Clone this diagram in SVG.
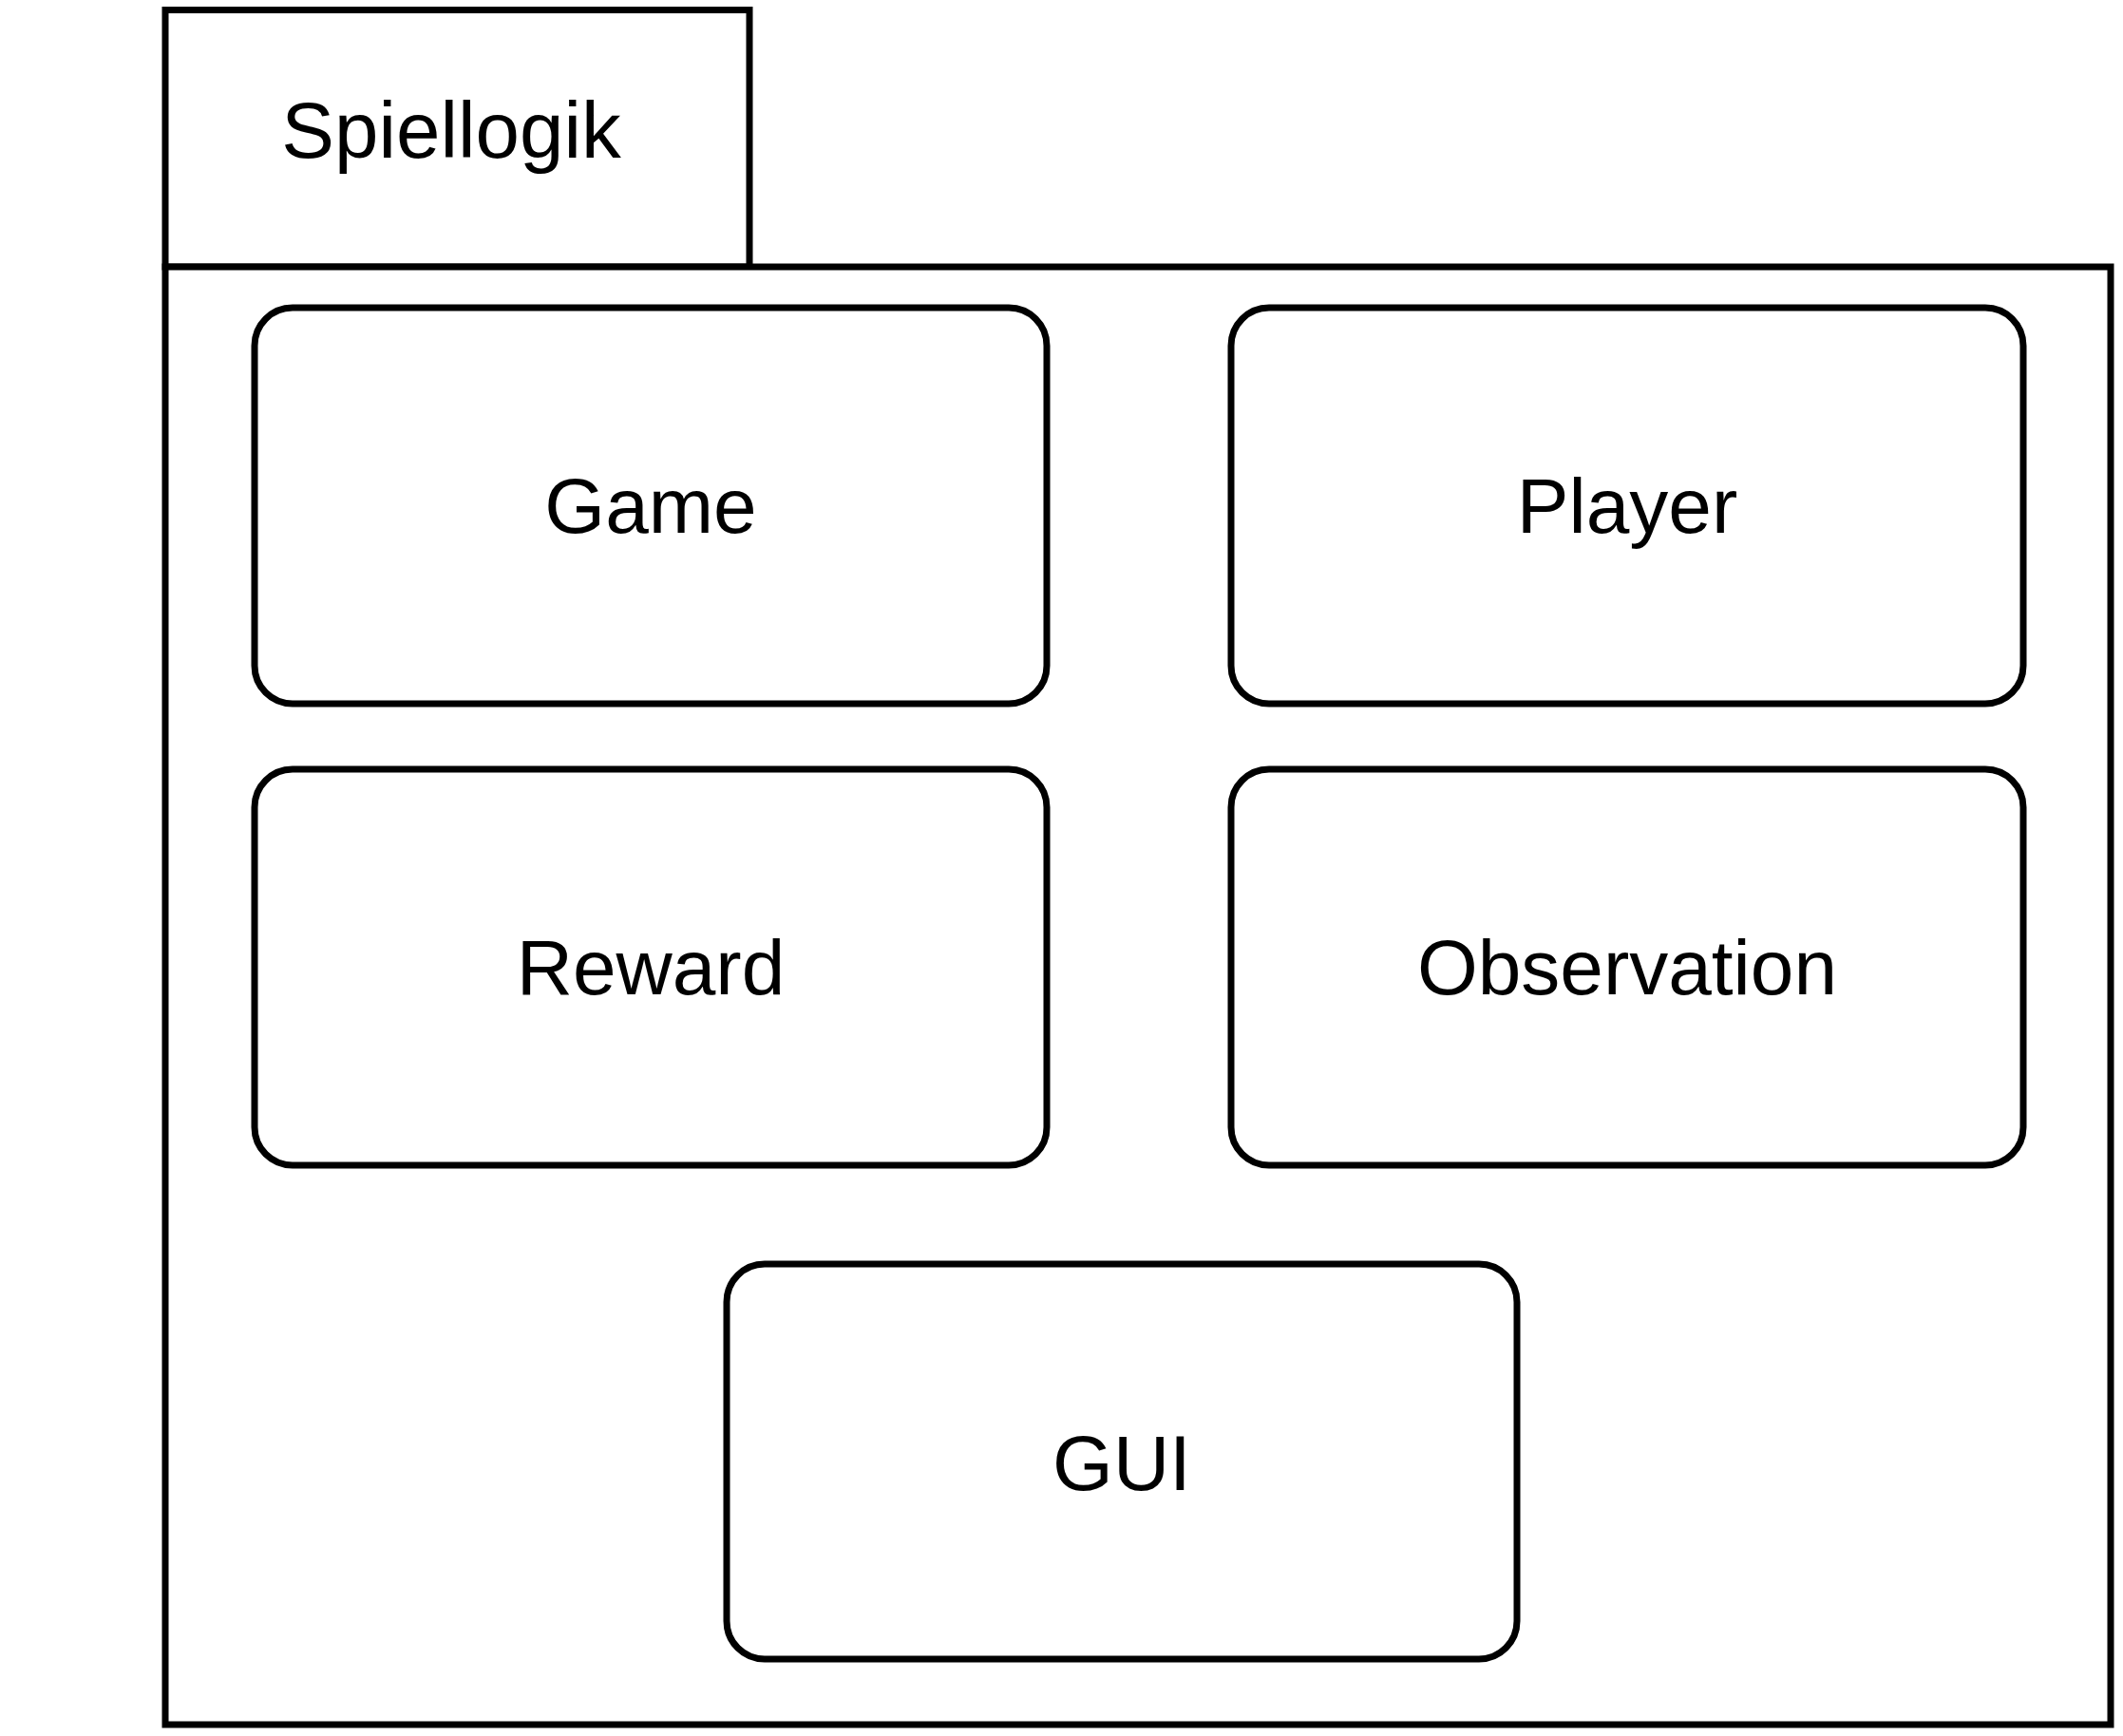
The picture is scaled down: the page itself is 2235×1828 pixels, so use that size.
<svg xmlns="http://www.w3.org/2000/svg" width="2235" height="1828" viewBox="0 0 2235 1828">
<style>
.frame{fill:#fff;stroke:#000;stroke-width:7}
.box{fill:#fff;stroke:#000;stroke-width:7}
.lbl{font-family:"Liberation Sans",Arial,sans-serif;font-size:82px;fill:#000;text-anchor:middle}
.title{font-size:83.5px}
</style>
<rect width="2235" height="1828" fill="#fff"/>
<g id="spiellogik">
<rect class="frame" x="174" y="10.5" width="615" height="270.5"/>
<rect class="frame" x="174" y="281" width="2048" height="1535"/>
<text class="lbl title" x="475" y="166">Spiellogik</text>
</g>
<g id="game">
<rect class="box" x="268" y="324" width="834" height="417" rx="40" ry="40"/>
<text class="lbl" x="685" y="561">Game</text>
</g>
<g id="player">
<rect class="box" x="1296" y="324" width="834" height="417" rx="40" ry="40"/>
<text class="lbl" x="1713" y="561">Player</text>
</g>
<g id="reward">
<rect class="box" x="268" y="810" width="834" height="417" rx="40" ry="40"/>
<text class="lbl" x="685" y="1047">Reward</text>
</g>
<g id="observation">
<rect class="box" x="1296" y="810" width="834" height="417" rx="40" ry="40"/>
<text class="lbl" x="1713" y="1047">Observation</text>
</g>
<g id="gui">
<rect class="box" x="765" y="1331" width="832" height="416" rx="40" ry="40"/>
<text class="lbl" x="1181" y="1569">GUI</text>
</g>
<g id="connectors"/>
</svg>
